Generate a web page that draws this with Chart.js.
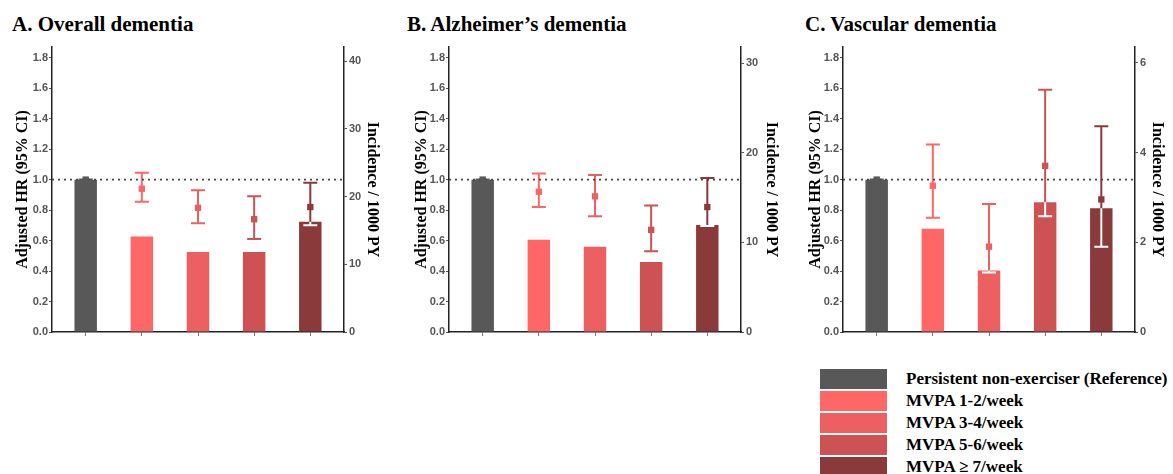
<!DOCTYPE html>
<html>
<head>
<meta charset="utf-8">
<script src="https://cdn.jsdelivr.net/npm/chart.js@4.4.1/dist/chart.umd.min.js"></script>
<style>
  body { margin: 0; background: #fff; width: 1173px; height: 474px; overflow: hidden; position: relative; }
  canvas { position: absolute; top: 0; }
  .ptitle { position: absolute; top: 12px; font: bold 21px "Liberation Serif", serif; color: #000; white-space: nowrap; }
  #legend { position: absolute; left: 820px; top: 368px; font: bold 17px "Liberation Serif", serif; color: #000; }
  .lrow { height: 22px; display: flex; align-items: center; white-space: nowrap; }
  .lbox { width: 67px; height: 20px; margin-right: 19px; }
</style>
</head>
<body>
<div class="ptitle" style="left:12px">A. Overall dementia</div>
<div class="ptitle" style="left:407px">B. Alzheimer’s dementia</div>
<div class="ptitle" style="left:805px">C. Vascular dementia</div>
<canvas id="chartA" width="390" height="345" style="left:0px"></canvas>
<canvas id="chartB" width="390" height="345" style="left:397px"></canvas>
<canvas id="chartC" width="390" height="345" style="left:791px"></canvas>
<div id="legend"></div>
<script>
// groups and colours
const groups = ["Persistent non-exerciser (Reference)", "MVPA 1-2/week", "MVPA 3-4/week", "MVPA 5-6/week", "MVPA ≥ 7/week"];
const groupColors = ["#585858", "#FF6666", "#EC6062", "#CC5254", "#8A3A3A"];

// left axis (adjusted HR)
const hrTicks = [0, 0.2, 0.4, 0.6, 0.8, 1.0, 1.2, 1.4, 1.6, 1.8];
const hrMax = 1.87;
const hrRef = 1.0;

// A. Overall dementia
const incidA = [22.5, 14.1, 11.8, 11.8, 16.3];
const hrA = [1.0, 0.94, 0.815, 0.74, 0.82];
const hrLoA = [1.0, 0.855, 0.713, 0.61, 0.70];
const hrHiA = [1.0, 1.045, 0.93, 0.89, 0.98];
const incidTicksA = [0, 10, 20, 30, 40];
const incidMaxA = 42.1;

// B. Alzheimer's dementia
const incidB = [17.0, 10.3, 9.5, 7.8, 11.95];
const hrB = [1.0, 0.92, 0.89, 0.67, 0.82];
const hrLoB = [1.0, 0.82, 0.76, 0.53, 0.695];
const hrHiB = [1.0, 1.04, 1.03, 0.83, 1.01];
const incidTicksB = [0, 10, 20, 30];
const incidMaxB = 31.8;

// C. Vascular dementia
const incidC = [3.39, 2.30, 1.37, 2.89, 2.76];
const hrC = [1.0, 0.96, 0.56, 1.09, 0.87];
const hrLoC = [1.0, 0.75, 0.39, 0.76, 0.56];
const hrHiC = [1.0, 1.23, 0.84, 1.59, 1.35];
const incidTicksC = [0, 2, 4, 6];
const incidMaxC = 6.35;

const tickFont = { family: "Liberation Sans", size: 11, weight: "bold" };
const titleFont = { family: "Liberation Serif", size: 16, weight: "bold" };

function makeErrorBars(incid, lo, hi) {
  return {
    id: "errorBars",
    afterDatasetDraw(chart, args) {
      if (args.index !== 0) return;
      const { ctx, scales: { x, y, y1 } } = chart;
      const half = 7;
      ctx.save();
      ctx.lineWidth = 2;
      const whisker = (color, cx, a, b, capA, capB) => {
        ctx.strokeStyle = color;
        ctx.beginPath();
        ctx.moveTo(cx, a);
        ctx.lineTo(cx, b);
        if (capA) { ctx.moveTo(cx - half, a); ctx.lineTo(cx + half, a); }
        if (capB) { ctx.moveTo(cx - half, b); ctx.lineTo(cx + half, b); }
        ctx.stroke();
      };
      lo.forEach((_, i) => {
        const cx = x.getPixelForValue(i);
        const top = y.getPixelForValue(hi[i]);
        const bot = y.getPixelForValue(lo[i]);
        const barTop = y1.getPixelForValue(incid[i]);
        whisker(groupColors[i], cx, top, bot, true, true);
        // part of the whisker that falls inside the bar is drawn white
        if (i > 0 && bot > barTop + 0.5) {
          const a = Math.max(top, barTop);
          whisker("#ffffff", cx, a, bot, top > barTop, true);
        }
      });
      ctx.restore();
    },
  };
}

function renderPanel(canvasId, incid, hr, lo, hi, incidTicks, incidMax, leftPad, rightPad) {
  const xs = incid.map((_, i) => i);
  new Chart(document.getElementById(canvasId), {
    type: "bar",
    data: {
      datasets: [
        {
          type: "bar",
          data: incid.map((v, i) => ({ x: xs[i], y: v })),
          yAxisID: "y1",
          backgroundColor: groupColors,
          borderWidth: 0,
          barPercentage: 0.4,
          categoryPercentage: 1,
          order: 3,
        },
        {
          type: "line",
          data: [{ x: -0.6, y: hrRef }, { x: 4.6, y: hrRef }],
          yAxisID: "y",
          borderColor: "#444",
          borderWidth: 1.6,
          borderDash: [2, 4],
          pointRadius: 0,
          fill: false,
          order: 2,
        },
        {
          type: "scatter",
          data: hr.map((v, i) => ({ x: xs[i], y: v })),
          yAxisID: "y",
          pointStyle: "rect",
          pointRadius: 4.5,
          backgroundColor: groupColors,
          borderWidth: 0,
          order: 1,
        },
      ],
    },
    options: {
      responsive: false,
      animation: false,
      layout: { padding: { top: 47, left: 0, right: 0, bottom: 0 } },
      plugins: { legend: { display: false }, tooltip: { enabled: false } },
      scales: {
        x: {
          type: "linear",
          min: -0.6,
          max: 4.6,
          offset: false,
          afterBuildTicks: (s) => { s.ticks = xs.map((v) => ({ value: v })); },
          afterFit: (s) => { s.height = 13; },
          ticks: { callback: () => "", padding: 0 },
          grid: { drawOnChartArea: false, offset: false, tickLength: 4, color: "#777" },
          border: { color: "#222", width: 1.5 },
        },
        y: {
          position: "left",
          min: 0,
          max: hrMax,
          afterBuildTicks: (s) => { s.ticks = hrTicks.map((v) => ({ value: v })); },
          afterFit: (s) => { s.width = 52; },
          ticks: { font: tickFont, color: "#555", padding: 1, callback: (v) => v.toFixed(1) },
          grid: { drawOnChartArea: false, tickLength: 3, color: "#555" },
          border: { color: "#222", width: 1.5 },
          title: { display: true, text: "Adjusted HR (95% CI)", font: titleFont, color: "#000", padding: { top: leftPad, bottom: 0 } },
        },
        y1: {
          position: "right",
          min: 0,
          max: incidMax,
          afterBuildTicks: (s) => { s.ticks = incidTicks.map((v) => ({ value: v })); },
          afterFit: (s) => { s.width = 46; },
          ticks: { font: tickFont, color: "#555", padding: 2 },
          grid: { drawOnChartArea: false, tickLength: 3, color: "#555" },
          border: { color: "#222", width: 1.5 },
          title: { display: true, text: "Incidence / 1000 PY", font: titleFont, color: "#000", padding: { top: rightPad, bottom: 0 } },
        },
      },
    },
    plugins: [makeErrorBars(incid, lo, hi)],
  });
}

renderPanel("chartA", incidA, hrA, hrLoA, hrHiA, incidTicksA, incidMaxA, 13, 8);
renderPanel("chartB", incidB, hrB, hrLoB, hrHiB, incidTicksB, incidMaxB, 15, 6);
renderPanel("chartC", incidC, hrC, hrLoC, hrHiC, incidTicksC, incidMaxC, 15, 14);

const legend = document.getElementById("legend");
legend.innerHTML = groups
  .map((g, i) => `<div class="lrow"><div class="lbox" style="background:${groupColors[i]}"></div><span>${g}</span></div>`)
  .join("");
</script>
</body>
</html>
